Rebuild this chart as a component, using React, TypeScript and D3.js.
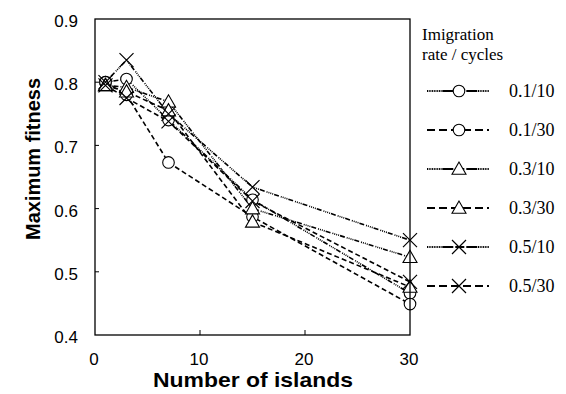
import React from "react";
import * as d3 from "d3";

// number of islands on the x axis
const islands = [1, 3, 7, 15, 30];

const seriesNames = ["0.1/10", "0.1/30", "0.3/10", "0.3/30", "0.5/10", "0.5/30"];
const seriesMarkers = ["circle", "circle", "triangle", "triangle", "cross", "cross"];
const seriesDotted = [true, false, true, false, true, false];

// maximum fitness
const fit01_10 = [0.8, 0.805, 0.74, 0.614, 0.466];
const fit01_30 = [0.8, 0.78, 0.673, 0.587, 0.449];
const fit03_10 = [0.795, 0.792, 0.769, 0.6, 0.523];
const fit03_30 = [0.795, 0.785, 0.755, 0.579, 0.476];
const fit05_10 = [0.8, 0.835, 0.75, 0.634, 0.55];
const fit05_30 = [0.795, 0.775, 0.738, 0.612, 0.484];
const allFits = [fit01_10, fit01_30, fit03_10, fit03_30, fit05_10, fit05_30];

const xTicks = [0, 10, 20, 30];
const yTicks = [0.4, 0.5, 0.6, 0.7, 0.8, 0.9];

const W = 566;
const H = 394;
const left = 95, right = 410, top = 19, bottom = 335;

const DOTTED = "1,1,1,1,1,1,1,1,5,2";
const DASHED = "5,3";
const LEG_DOTTED = "1,0.7,1,0.7,1,0.7,1,0.7,1,0.7,1,0.7,1,0.7,1,0.7,1,0.7,11,2,9,2,10,0";
const LEG_DASHED = "8,4";

function Marker({ kind, x, y }: { kind: string; x: number; y: number }) {
  if (kind === "circle") {
    return <circle cx={x} cy={y} r={5.8} fill="#fff" stroke="#000" strokeWidth={1.1} />;
  }
  if (kind === "triangle") {
    const s = 7;
    const pts = `${x},${y - s} ${x - s},${y + s * 0.75} ${x + s},${y + s * 0.75}`;
    return <polygon points={pts} fill="#fff" stroke="#000" strokeWidth={1.1} />;
  }
  const s = 7;
  return (
    <path
      d={`M${x - s},${y - s}L${x + s},${y + s}M${x - s},${y + s}L${x + s},${y - s}`}
      stroke="#000"
      strokeWidth={1.2}
      fill="none"
    />
  );
}

export default function App() {
  const x = d3.scaleLinear().domain([0, 30]).range([left, right]);
  const y = d3.scaleLinear().domain([0.4, 0.9]).range([bottom, top]);
  const line = d3
    .line<[number, number]>()
    .x((d) => x(d[0]))
    .y((d) => y(d[1]));

  const legendX0 = 427;
  const legendX1 = 489;
  const legendY0 = 91;
  const legendStep = 39;

  return (
    <svg
      width={W}
      height={H}
      style={{ position: "absolute", left: 0, top: 0, background: "#fff" }}
      fontFamily="'Liberation Sans', Arial, sans-serif"
    >
      {/* series lines */}
      {allFits.map((vals, i) => (
        <path
          key={"l" + i}
          d={line(islands.map((n, j) => [n, vals[j]] as [number, number])) || ""}
          fill="none"
          stroke="#000"
          strokeWidth={1.6}
          strokeDasharray={seriesDotted[i] ? DOTTED : DASHED}
        />
      ))}
      {/* markers */}
      {allFits.map((vals, i) =>
        islands.map((n, j) => (
          <Marker key={`m${i}-${j}`} kind={seriesMarkers[i]} x={x(n)} y={y(vals[j])} />
        ))
      )}

      {/* frame */}
      <rect x={left} y={top} width={right - left} height={bottom - top} fill="none" stroke="#000" strokeWidth={1.3} />
      {yTicks.slice(1, -1).map((t) => (
        <line key={"yt" + t} x1={left} x2={left + 4} y1={y(t)} y2={y(t)} stroke="#000" strokeWidth={1} />
      ))}
      {xTicks.slice(1, -1).map((t) => (
        <line key={"xt" + t} x1={x(t)} x2={x(t)} y1={bottom} y2={bottom - 5} stroke="#000" strokeWidth={1} />
      ))}

      {/* tick labels */}
      {yTicks.map((t) => (
        <text key={"yl" + t} x={78} y={y(t) + 2} dy="0.35em" textAnchor="end" fontSize={17}>
          {t.toFixed(1)}
        </text>
      ))}
      {xTicks.map((t) => (
        <text key={"xl" + t} x={x(t) - 1} y={365} textAnchor="middle" fontSize={17}>
          {t}
        </text>
      ))}

      {/* axis titles */}
      <text
        x={253}
        y={387}
        textAnchor="middle"
        fontSize={21}
        fontWeight="bold"
        textLength={200}
        lengthAdjust="spacingAndGlyphs"
      >
        Number of islands
      </text>
      <text
        transform={`translate(40,159) rotate(-90)`}
        textAnchor="middle"
        fontSize={21}
        fontWeight="bold"
        textLength={162}
        lengthAdjust="spacingAndGlyphs"
      >
        Maximum fitness
      </text>

      {/* legend */}
      <g fontFamily="'Liberation Serif', 'Times New Roman', serif" fontSize={18}>
        <text x={422} y={40} fontSize={17}>Imigration</text>
        <text x={422} y={60} fontSize={17}>rate / cycles</text>
        {seriesNames.map((name, i) => {
          const ly = legendY0 + i * legendStep;
          const mid = 459;
          return (
            <g key={"lg" + i}>
              <line
                x1={legendX0}
                x2={legendX1}
                y1={ly}
                y2={ly}
                stroke="#000"
                strokeWidth={2.2}
                strokeDasharray={seriesDotted[i] ? LEG_DOTTED : LEG_DASHED}
              />
              <Marker kind={seriesMarkers[i]} x={mid} y={ly} />
              <text x={509} y={ly} dy="0.35em">
                {name}
              </text>
            </g>
          );
        })}
      </g>
    </svg>
  );
}
